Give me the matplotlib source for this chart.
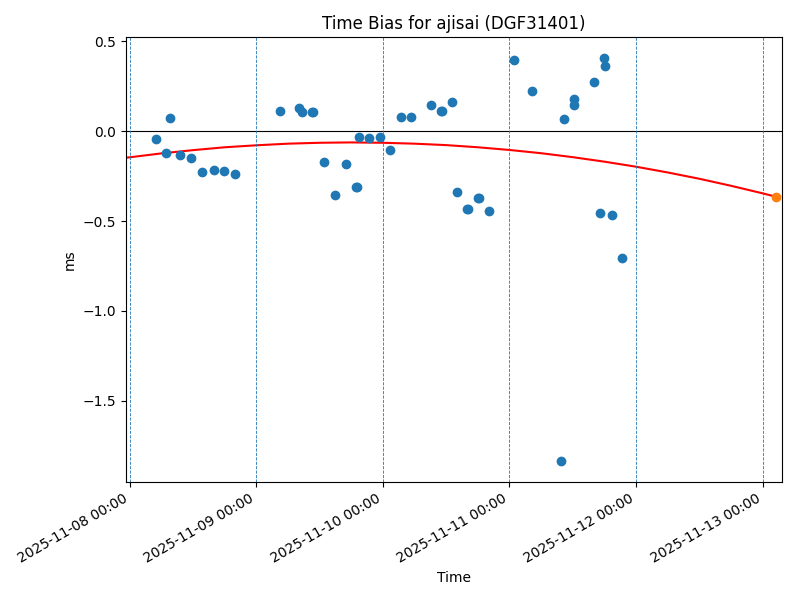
import numpy as np
import pandas as pd
import matplotlib
matplotlib.use("Agg")
import matplotlib.pyplot as plt
import matplotlib.dates as mdates

t0 = pd.Timestamp("2025-11-08 00:00")

# observation times (days after 2025-11-08 00:00) and time bias (ms)
obs_days = [0.206, 0.287, 0.316, 0.398, 0.482, 0.572, 0.667, 0.748, 0.833,
            1.188, 1.336, 1.360, 1.440, 1.450, 1.536, 1.623, 1.708, 1.788,
            1.796, 1.810, 1.892, 1.979, 2.055, 2.142, 2.224, 2.379, 2.462,
            2.470, 2.545, 2.585, 2.667, 2.673, 2.752, 2.760, 2.838, 3.038,
            3.178, 3.407, 3.431, 3.510, 3.510, 3.671, 3.718, 3.750, 3.758,
            3.813, 3.892]
obs_bias = [-0.046, -0.124, 0.075, -0.135, -0.152, -0.230, -0.219, -0.224, -0.241,
            0.111, 0.128, 0.104, 0.106, 0.106, -0.174, -0.357, -0.185, -0.313,
            -0.313, -0.035, -0.041, -0.033, -0.106, 0.076, 0.076, 0.144, 0.113,
            0.113, 0.161, -0.339, -0.435, -0.435, -0.374, -0.374, -0.444, 0.398,
            0.222, -1.833, 0.067, 0.178, 0.143, 0.272, -0.456, 0.406, 0.361,
            -0.467, -0.707]

# fitted trend
fit_days = [-0.015, 0.25, 0.5, 0.75, 1.0, 1.25, 1.5, 1.75, 2.0, 2.25, 2.5,
            2.75, 3.0, 3.25, 3.5, 3.75, 4.0, 4.25, 4.5, 4.75, 5.0, 5.107]
fit_bias = [-0.147, -0.124, -0.106, -0.090, -0.079, -0.070, -0.065, -0.063, -0.065,
            -0.070, -0.078, -0.090, -0.105, -0.123, -0.145, -0.170, -0.198, -0.230,
            -0.265, -0.304, -0.346, -0.365]

# predicted point
pred_day = [5.107]
pred_bias = [-0.367]

day_lines = [0, 1, 2, 3, 4, 5]

to_time = lambda d: t0 + pd.to_timedelta(np.array(d), unit="D")

fig, ax = plt.subplots(figsize=(8, 6), dpi=100)
fig.subplots_adjust(left=0.1575, right=0.9775, top=0.938, bottom=0.197)

ax.scatter(to_time(obs_days), obs_bias, color="tab:blue", zorder=3)
ax.plot(to_time(fit_days), fit_bias, color="red", zorder=2)
ax.scatter(to_time(pred_day), pred_bias, color="tab:orange", zorder=4)
ax.axhline(0, color="black", linewidth=0.8)
for d in to_time(day_lines):
    ax.axvline(d, color="tab:blue", linestyle="--", linewidth=0.6)

ax.set_xlim(to_time([-0.03])[0], to_time([5.154])[0])
ax.set_ylim(-1.95, 0.522)
ax.xaxis.set_major_locator(mdates.DayLocator())
ax.xaxis.set_major_formatter(mdates.DateFormatter("%Y-%m-%d %H:%M"))
plt.setp(ax.get_xticklabels(), rotation=30, ha="right")

ax.set_title("Time Bias for ajisai (DGF31401)")
ax.set_xlabel("Time")
ax.set_ylabel("ms")

fig.savefig("out.png")
